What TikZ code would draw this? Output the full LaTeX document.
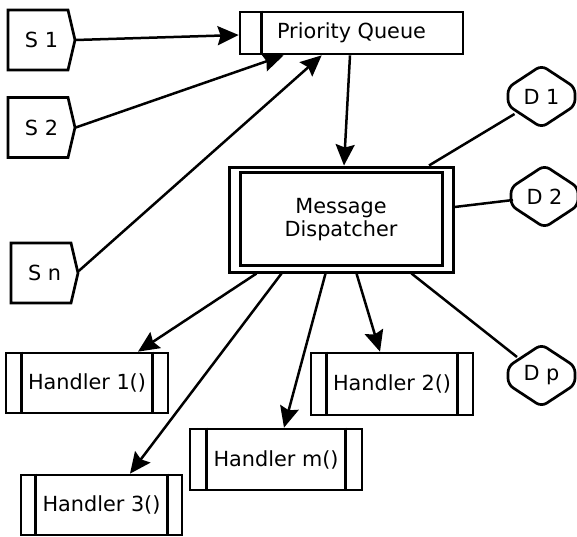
\documentclass[tikz,border=0pt]{standalone}
\usepackage{fontspec}
\setmainfont{DejaVu Sans}
\usetikzlibrary{arrows.meta,calc}
\newcommand\sflag[1]{\draw[lw] ($(#1)+(-33.5,-30)$) -- ++(60,0) -- ++(7,30) -- ++(-7,30) -- ++(-60,0) -- cycle;}
\newcommand\dshape[1]{\draw[lw,rounded corners=6pt] ($(#1)+(-33.5,-9)$) -- ($(#1)+(0,-31)$) -- ($(#1)+(33.5,-9)$) -- ($(#1)+(33.5,9)$) -- ($(#1)+(0,31)$) -- ($(#1)+(-33.5,9)$) -- cycle;}
\newcommand\hdiv[2]{\draw[lw] ([xshift=#2]#1.north west) -- ([xshift=#2]#1.south west); \draw[lw] ([xshift=-#2]#1.north east) -- ([xshift=-#2]#1.south east);}
\begin{document}
\begin{tikzpicture}[x=1pt,y=-1pt,
  lw/.style={line width=2.7pt},
  conn/.style={line width=2.5pt},
  arr/.style={conn,-{Stealth[length=21pt,width=19pt,inset=3pt]}},
  txt/.style={font=\fontsize{20.8}{23.5}\selectfont, inner sep=0pt, align=center},
  plain/.style={txt, minimum width=60pt, minimum height=60pt},
  rbox/.style={txt, draw, lw}
]
\useasboundingbox (0,0) rectangle (577,536);
% sources
\node[plain] (s1) at (41.5,40) {S 1};
\node[plain] (s2) at (41.5,127.5) {S 2};
\node[plain] (sn) at (44.5,273) {S n};
\sflag{s1}\sflag{s2}\sflag{sn}
% priority queue
\node[rbox, minimum width=223pt, minimum height=42pt] (pq) at (351.5,33) {Priority Queue};
\draw[lw] ([xshift=23pt]pq.north west) -- ([xshift=23pt]pq.south west);
% dispatcher
\node[rbox, line width=3pt, minimum width=224pt, minimum height=105pt] (md) at (341,219.5) {Message\\Dispatcher};
\draw[line width=3pt] ($(md.north west)+(13,7)$) rectangle ($(md.south east)+(-12,-8)$);
% D nodes
\node[plain, minimum width=67pt] (d1) at (541.5,96.5) {D 1};
\node[plain, minimum width=67pt] (d2) at (544.5,196.5) {D 2};
\node[plain, minimum width=67pt] (dp) at (541.5,375.5) {D p};
\dshape{d1}\dshape{d2}\dshape{dp}
% handlers
\node[rbox, minimum width=162pt, minimum height=60pt] (h1) at (87,383) {Handler 1()};
\node[rbox, minimum width=162pt, minimum height=62pt] (h2) at (392,384) {Handler 2()};
\node[rbox, minimum width=172pt, minimum height=61pt] (hm) at (276,459.5) {Handler m()};
\node[rbox, minimum width=161pt, minimum height=60pt] (h3) at (101.5,505) {Handler 3()};
\hdiv{h1}{17pt}\hdiv{h2}{17pt}\hdiv{hm}{18pt}\hdiv{h3}{16pt}
% connectors
\draw[arr] ($(s1.east)+(4,0)$) -- ($(pq.west)+(0,2)$);
\draw[arr] ($(s2.east)+(4,0)$) -- ($(pq.south west)+(45,0)$);
\draw[arr] ($(sn.east)+(4,-2)$) -- ($(pq.south west)+(83,0)$);
\draw[arr] ($(pq.south)+(-1.5,0)$) -- ($(md.north)+(3,0)$);
\draw[conn] ($(d1)+(-27,17.5)$) -- ($(md.north)+(88,0)$);
\draw[conn] ($(d2)+(-31.5,3.5)$) -- ($(md.east)+(0,-12.5)$);
\draw[conn] ($(dp)+(-24.5,-18.5)$) -- ($(md.south east)+(-43,0)$);
\draw[arr] ($(md.south west)+(29,0)$) -- ($(h1.north)+(51,0)$);
\draw[arr] ($(md.south west)+(54,0)$) -- ($(h3.north)+(28.5,0)$);
\draw[arr] ($(md.south west)+(98,0)$) -- ($(hm.north)+(8,0)$);
\draw[arr] ($(md.south west)+(129,0)$) -- ($(h2.north)+(-12,0)$);
\end{tikzpicture}
\end{document}
